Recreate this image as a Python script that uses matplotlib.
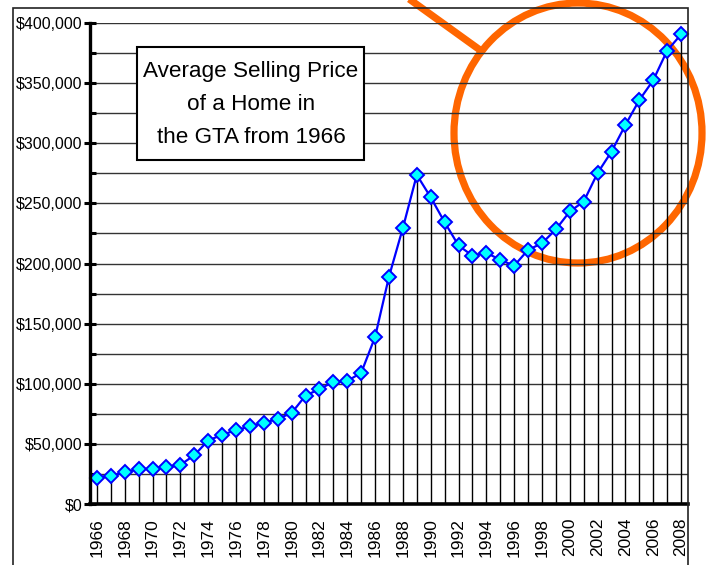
import numpy as np
import matplotlib
matplotlib.use("Agg")
import matplotlib.pyplot as plt
from matplotlib.patches import Rectangle, Ellipse
from matplotlib.lines import Line2D
from matplotlib.ticker import MultipleLocator, FuncFormatter

plt.rcParams.update({"font.family": ["Liberation Sans", "DejaVu Sans"]})

# %% data
years = list(range(1966, 2009))
prices = [
    21701, 23593, 26207, 28929, 29492, 30426, 32513, 40605, 52806, 57581,
    61389, 64559, 67333, 70830, 75694, 90203, 95496, 101626, 102318, 109094,
    138925, 189105, 229635, 273698, 255020, 234313, 214971, 206490, 208921, 203028,
    198150, 211307, 216815, 228372, 243255, 251508, 275231, 293067, 315231, 335907,
    352388, 377029, 390500,
]
title_lines = ["Average Selling Price", "of a Home in", "the GTA from 1966"]

W, H = 707, 565
orange = "#FF6600"

fig = plt.figure(figsize=(W / 100, H / 100), dpi=100)
ax = fig.add_axes([90 / W, 1 - 504 / H, (688 - 90) / W, (504 - 23) / H])
ax.set_facecolor("none")

# horizontal grid every 25k
for yv in np.arange(25000, 400001, 25000):
    ax.axhline(yv, color="#333333", linewidth=1.0, zorder=1)

# drop lines
ax.vlines(years, 0, prices, color="black", linewidth=1.0, zorder=2)

ax.plot(years, prices, color="#0000FF", linewidth=1.6, marker="D", markersize=7,
        markerfacecolor="#00FFFF", markeredgecolor="#0000FF", markeredgewidth=1.4, zorder=4,
        clip_on=False)

ax.set_xlim(1965.5, 2008.5)
ax.set_ylim(0, 400000)

ax.set_xticks(years[::2])
ax.set_xticklabels([str(y) for y in years[::2]], rotation=90, fontsize=12.5)
ax.tick_params(axis="x", length=0, pad=10)

ax.yaxis.set_major_locator(MultipleLocator(50000))
ax.yaxis.set_minor_locator(MultipleLocator(25000))
ax.yaxis.set_major_formatter(FuncFormatter(lambda v, p: f"${v:,.0f}"))
ax.tick_params(axis="y", which="major", direction="inout", length=8, width=2.2, labelsize=11.5, pad=1.5)
ax.tick_params(axis="y", which="minor", direction="in", length=4, width=2.2)

ax.spines["top"].set_visible(False)
ax.spines["right"].set_visible(False)
ax.spines["left"].set_linewidth(2.4)
ax.spines["bottom"].set_linewidth(2.6)
ax.spines["left"].set_zorder(5)
ax.spines["bottom"].set_zorder(5)

# outer frame
fig.patches.append(Rectangle((13 / W, -0.05), (688 - 13) / W, 1.05 - 8 / H,
                             transform=fig.transFigure, fill=False,
                             edgecolor="#222222", linewidth=1.2, zorder=6))

# title box
fig.patches.append(Rectangle((137 / W, 1 - 160 / H), 227 / W, 113 / H,
                             transform=fig.transFigure, facecolor="white",
                             edgecolor="black", linewidth=1.5, zorder=6))
for i, line in enumerate(title_lines):
    fig.text(251 / W, 1 - (72 + 32.5 * i) / H, line, ha="center", va="center",
             fontsize=16.2, zorder=7)

# orange callout circle
fig.patches.append(Ellipse((578 / W, 1 - 133 / H), 248 / W, 260 / H,
                           transform=fig.transFigure, fill=False,
                           edgecolor=orange, linewidth=5.2, zorder=-1))
fig.lines.append(Line2D([480 / W, 380 / W], [1 - 50 / H, 1 + 22 / H],
                        transform=fig.transFigure, color=orange, linewidth=5.2,
                        solid_capstyle="butt", zorder=-1))

plt.savefig("out.png", dpi=100)
